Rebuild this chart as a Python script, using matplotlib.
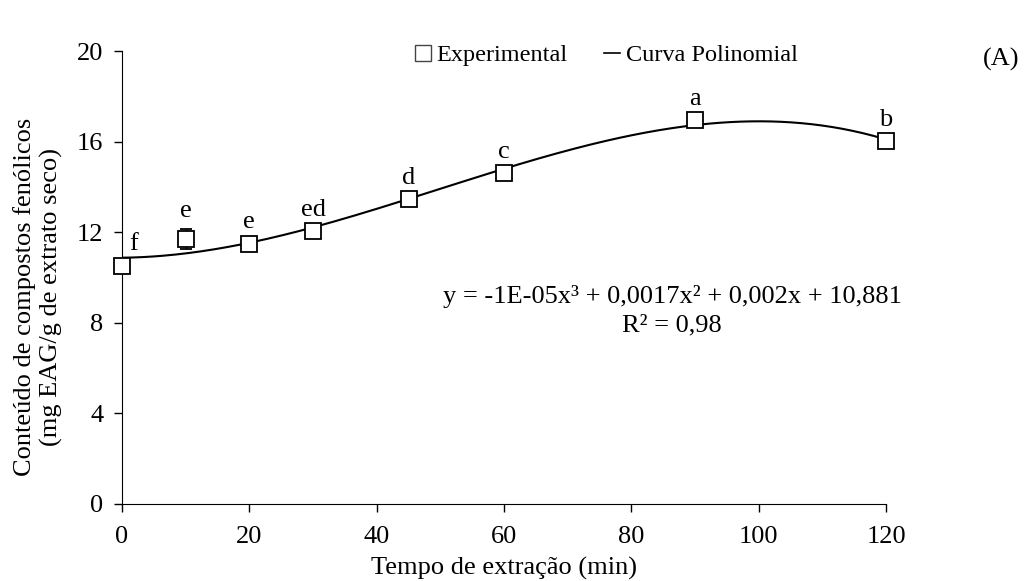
import numpy as np
import matplotlib.pyplot as plt
from matplotlib.lines import Line2D

# dados
tempo = [0, 10, 20, 30, 45, 60, 90, 120]
fenolicos = [10.5, 11.7, 11.5, 12.05, 13.45, 14.6, 16.95, 16.03]
erro = [0.1, 0.45, 0.15, 0.15, 0.15, 0.15, 0.15, 0.15]
letras = ["f", "e", "e", "ed", "d", "c", "a", "b"]

plt.rcParams['font.family'] = ['Liberation Serif', 'DejaVu Serif']
FS = 19

fig = plt.figure(figsize=(10.33, 5.81), dpi=100)
ax = fig.add_axes([122 / 1033, 1 - 504 / 581, (886 - 122) / 1033, (504 - 51) / 581])

# curva polinomial de 3a ordem (linha de tendência)
coef = np.polyfit(tempo, fenolicos, 3)
xs = np.linspace(0, 120, 300)
ax.plot(xs, np.polyval(coef, xs), color='black', lw=1.5, zorder=2)

ax.errorbar(tempo, fenolicos, yerr=erro, fmt='s', ms=11, mfc='white', mec='black',
            mew=1.3, ecolor='black', elinewidth=1, capsize=4, zorder=3, clip_on=False)

# letras de significância
for i, (x, y, l) in enumerate(zip(tempo, fenolicos, letras)):
    if i == 0:
        ax.text(x + 1.2, y + 0.5, l, ha='left', va='bottom', fontsize=FS)
    else:
        ax.text(x, y + erro[i] + 0.3, l, ha='center', va='bottom', fontsize=FS)

ax.text(86.4, 9.14, "y = -1E-05x³ + 0,0017x² + 0,002x + 10,881", ha='center', va='center', fontsize=FS)
ax.text(86.4, 7.9, "R² = 0,98", ha='center', va='center', fontsize=FS)

ax.set_xlim(0, 120)
ax.set_ylim(0, 20)
ax.set_xticks(range(0, 121, 20))
ax.set_yticks(range(0, 21, 4))
ax.spines['top'].set_visible(False)
ax.spines['right'].set_visible(False)
ax.tick_params(direction='out', length=6, width=1, labelsize=FS)
ax.tick_params(axis='x', pad=10)
ax.tick_params(axis='y', pad=7.5)
ax.set_xlabel("Tempo de extração (min)", fontsize=FS, labelpad=6)
ax.set_ylabel("Conteúdo de compostos fenólicos\n(mg EAG/g de extrato seco)", fontsize=FS,
              labelpad=10, linespacing=1.2)
ax.yaxis.label.set_y(0.458)

handles = [Line2D([], [], ls='none', marker='s', ms=11, mfc='white', mec='#444444', mew=1),
           Line2D([], [], color='black', lw=1.2)]
ax.legend(handles, ['Experimental', 'Curva Polinomial'], loc='center', bbox_to_anchor=(0.634, 0.991),
          ncol=2, frameon=False, fontsize=17.5, handlelength=0.65, columnspacing=1.5, handletextpad=0.25)

fig.text(1001 / 1033, 1 - 59 / 581, "(A)", ha='center', va='center', fontsize=FS)

fig.savefig("out.png", dpi=100)
